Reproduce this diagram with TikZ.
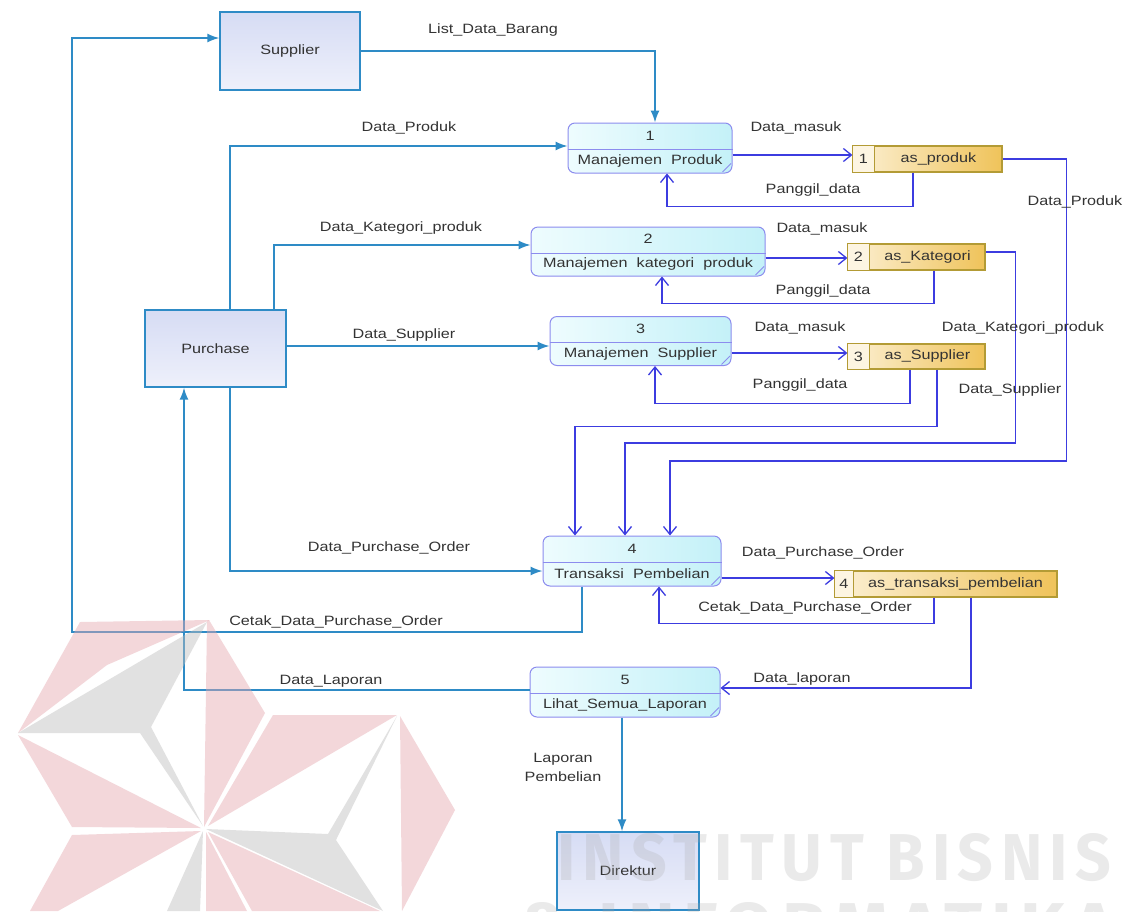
\documentclass[tikz,border=0pt]{standalone}
\usepackage{fontspec}
\setmainfont{Liberation Sans}[FakeStretch=1.2]
\newfontfamily\wmfont{Fira Sans}[LetterSpace=12]
\usetikzlibrary{arrows.meta,calc}
\definecolor{extc}{HTML}{2E8BC6}
\definecolor{intc}{HTML}{3C3CE0}
\definecolor{txt}{HTML}{333333}
\definecolor{procd}{HTML}{8C8CEE}
\definecolor{procA}{HTML}{EEFCFE}
\definecolor{procB}{HTML}{C4F1F8}
\definecolor{entA}{HTML}{D6DCF4}
\definecolor{entB}{HTML}{EEF0FB}
\definecolor{stored}{HTML}{B39B35}
\definecolor{stA}{HTML}{FCF0D4}
\definecolor{stB}{HTML}{EFC35A}
\definecolor{cellc}{HTML}{FDF5E2}
\definecolor{wmpink}{HTML}{E5A7AF}
\definecolor{wmgrey}{HTML}{BDBDBD}
\definecolor{wmtext}{HTML}{A8A8A8}
\newcommand\procparts[3]{%
  \draw[draw=procd, line width=1] ([yshift=-1.5]#1.west) -- ([yshift=-1.5]#1.east);
  \node (#1num) at ([yshift=12.5]#1.center) {#2};
  \node (#1name) at ([yshift=-13]#1.center) {#3};
  \draw[draw=procd, line width=0.8] ([xshift=-10,yshift=1.5]#1.south east) -- ([xshift=-1.5,yshift=10]#1.south east);
}
\newcommand\storeparts[4]{%
  \fill[cellc] ([xshift=0.6,yshift=-0.6]#1.north west) rectangle ([xshift=#4,yshift=0.6]#1.south west);
  \draw[draw=stored, line width=1.2] ([xshift=#4]#1.north west) -- ([xshift=#4]#1.south west);
  \node (#1num) at ([xshift=#4/2]#1.west) {#2};
  \node (#1name) at ($(#1.east)!0.5!([xshift=#4]#1.west)$) {#3};
}
\begin{document}
\begin{tikzpicture}[x=1pt,y=-1pt,
  every node/.style={font=\fontsize{13.5}{15}\selectfont, text=txt},
  ent/.style={rectangle, draw=extc, line width=1.4, top color=entA, bottom color=entB, inner sep=0},
  proc/.style={rectangle, rounded corners=7, draw=procd, line width=1, left color=procA, right color=procB, inner sep=0},
  store/.style={rectangle, draw=stored, line width=1.2, left color=stA, right color=stB, inner sep=0, minimum height=26},
  ext/.style={draw=extc, line width=1.5, -{Latex[length=12,width=9]}},
  int/.style={draw=intc, line width=1.3, -{Straight Barb[length=8,width=13]}},
  lbl/.style={inner sep=0}]
\useasboundingbox (0,0) rectangle (1129,911);
\clip (0,0) rectangle (1129,911);
\fill[white] (0,0) rectangle (1129,911);

% external entities
\node[ent, minimum width=140, minimum height=78] (sup) at (290,51) {Supplier};
\node[ent, minimum width=141, minimum height=77] (pur) at (215.5,348.5) {Purchase};
\node[ent, minimum width=142, minimum height=78] (dir) at (628,871) {Direktur};

% processes
\node[proc, minimum width=164, minimum height=50] (p1) at (650,148) {};
\node[proc, minimum width=234, minimum height=49] (p2) at (648,251.5) {};
\node[proc, minimum width=181, minimum height=49] (p3) at (640.5,341) {};
\node[proc, minimum width=178, minimum height=50] (p4) at (632,561) {};
\node[proc, minimum width=190, minimum height=50] (p5) at (625,692) {};
\procparts{p1}{1}{Manajemen\ \ Produk}
\procparts{p2}{2}{Manajemen\ \ kategori\ \ produk}
\procparts{p3}{3}{Manajemen\ \ Supplier}
\procparts{p4}{4}{Transaksi\ \ Pembelian}
\procparts{p5}{5}{Lihat\_Semua\_Laporan}

% data stores
\node[store, minimum width=149] (s1) at (927.5,159) {};
\node[store, minimum width=137] (s2) at (916.5,257) {};
\node[store, minimum width=137, minimum height=25] (s3) at (916.5,356.5) {};
\node[store, minimum width=222] (s4) at (946,584) {};
\storeparts{s1}{1}{as\_produk}{22}
\storeparts{s2}{2}{as\_Kategori}{22}
\storeparts{s3}{3}{as\_Supplier}{22}
\storeparts{s4}{4}{as\_transaksi\_pembelian}{19}

% external flows
\coordinate (cl) at (72,632);
\draw[ext] (sup.east) -| ([xshift=5]p1.north);
\draw[ext] ([xshift=14.5]pur.north) |- ([yshift=2]p1.west);
\draw[ext] ([xshift=58.5]pur.north) |- ([yshift=6.5]p2.west);
\draw[ext] ([yshift=2.5]pur.east) -- ([yshift=-5]p3.west);
\draw[ext] ([xshift=14.5]pur.south) |- ([yshift=-10]p4.west);
\draw[ext] ([xshift=-50]p4.south) |- (cl) |- ([yshift=13]sup.west);
\draw[ext] ([yshift=2]p5.west) -| ([xshift=-31.5]pur.south);
\draw[ext] ([xshift=-3]p5.south) -- ([xshift=-3]p5.south |- dir.north);

% internal flows
\draw[int] ([yshift=-7]p1.east) -- ([yshift=-7]p1.east -| s1.west);
\draw[int] ([xshift=-14.5]s1.south) -- ++(0,34) -| ([xshift=17]p1.south);
\draw[int] ([yshift=-6.5]p2.east) -- ([yshift=-6.5]p2.east -| s2.west);
\draw[int] ([xshift=17.5]s2.south) -- ++(0,33) -| ([xshift=14]p2.south);
\draw[int] ([yshift=-12]p3.east) -- ([yshift=-12]p3.east -| s3.west);
\draw[int] ([xshift=-6.5]s3.south) -- ++(0,34) -| ([xshift=14.5]p3.south);
\draw[int] (s1.east) -| ++(64,302) -| ([xshift=38]p4.north);
\draw[int] ([yshift=5]s2.east) -| ++(30,191) -| ([xshift=-7]p4.north);
\draw[int] ([xshift=20.5]s3.south) -- ++(0,57) -| ([xshift=-57]p4.north);
\draw[int] ([yshift=-17]p4.east) -- ([yshift=-17]p4.east -| s4.west);
\draw[int] ([xshift=-12]s4.south) -- ++(0,26) -| ([xshift=27]p4.south);
\draw[int] ([xshift=25]s4.south) |- ([yshift=4]p5.east);

% labels
\node[lbl] (l1) at (493,30) {List\_Data\_Barang};
\node[lbl] (l2) at (409,128) {Data\_Produk};
\node[lbl] (l3) at (796,128) {Data\_masuk};
\node[lbl] (l4) at (813,190) {Panggil\_data};
\node[lbl] (l5) at (1075,202) {Data\_Produk};
\node[lbl] (l6) at (401,228) {Data\_Kategori\_produk};
\node[lbl] (l7) at (822,229) {Data\_masuk};
\node[lbl] (l8) at (823,291) {Panggil\_data};
\node[lbl] (l9) at (404,335) {Data\_Supplier};
\node[lbl] (l10) at (800,328) {Data\_masuk};
\node[lbl] (l11) at (1023,328) {Data\_Kategori\_produk};
\node[lbl] (l12) at (800,385) {Panggil\_data};
\node[lbl] (l13) at (1010,390) {Data\_Supplier};
\node[lbl] (l14) at (389,548) {Data\_Purchase\_Order};
\node[lbl] (l15) at (823,553) {Data\_Purchase\_Order};
\node[lbl] (l16) at (805,608) {Cetak\_Data\_Purchase\_Order};
\node[lbl] (l17) at (336,622) {Cetak\_Data\_Purchase\_Order};
\node[lbl] (l18) at (331,681) {Data\_Laporan};
\node[lbl] (l19) at (802,679) {Data\_laporan};
\node[lbl, align=center, font=\fontsize{13.5}{19}\selectfont] (l20) at (563,767) {Laporan\\Pembelian};

% watermark
\begin{scope}[fill opacity=0.45]
\fill[wmpink] (80,622) -- (210,620) -- (107,665) -- (18,733) -- cycle;
\fill[wmpink] (209,620) -- (265,713) -- (204,827) -- (207,621) -- cycle;
\fill[wmpink] (18,735) -- (201,828) -- (72,827) -- cycle;
\fill[wmpink] (72,835) -- (201,831) -- (58,911) -- (30,911) -- cycle;
\fill[wmpink] (206,832) -- (206,911) -- (247,911) -- cycle;
\fill[wmpink] (208,832) -- (380,911) -- (252,911) -- cycle;
\fill[wmpink] (273,715) -- (397,715) -- (208,826) -- cycle;
\fill[wmpink] (400,716) -- (455,810) -- (402,911) -- cycle;
\fill[wmgrey] (207,622) -- (18,733) -- (140,733) -- (203,826) -- (151,727) -- cycle;
\fill[wmgrey] (203,831) -- (167,911) -- (200,911) -- cycle;
\fill[wmgrey] (206,829) -- (328,834) -- (397,716) -- (336,840) -- (383,911) -- cycle;
\end{scope}
\node[anchor=north west, inner sep=0, text=wmtext, text opacity=0.24] (wm1) at (557,833) {\resizebox{554pt}{47pt}{\wmfont\bfseries INSTITUT BISNIS}};
\node[anchor=north west, inner sep=0, text=wmtext, text opacity=0.24] (wm2) at (520,902) {\resizebox{595pt}{47pt}{\wmfont\bfseries \& INFORMATIKA}};
\end{tikzpicture}
\end{document}
